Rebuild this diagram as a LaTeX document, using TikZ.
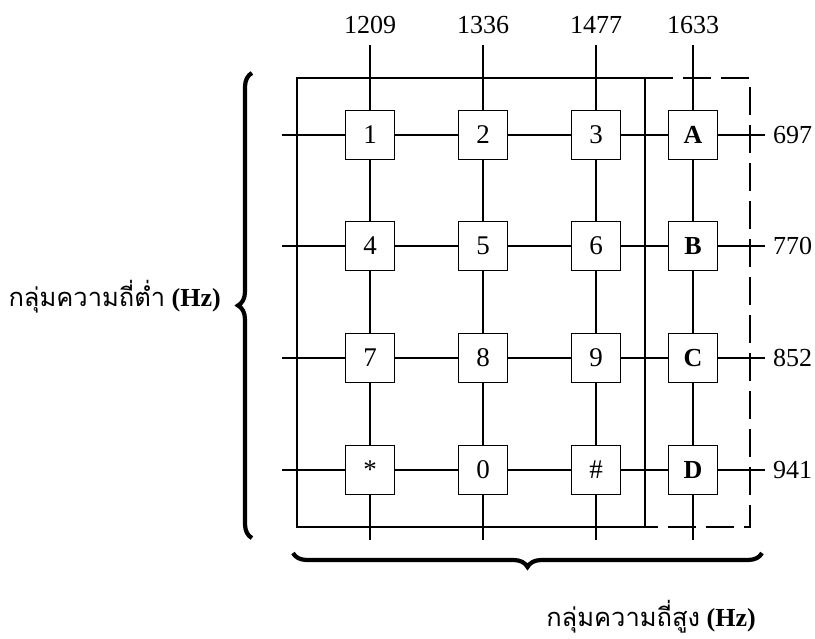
\documentclass[tikz,border=0pt]{standalone}
\usepackage{fontspec}
\setmainfont{Liberation Serif}
\newfontfamily\thaifont[Script=Thai]{Loma}
\usetikzlibrary{decorations.pathreplacing}
\begin{document}
\begin{tikzpicture}[x=1pt,y=-1pt,
  key/.style={draw, fill=white, line width=1.3pt, minimum size=49pt, inner sep=0pt, font=\fontsize{27}{30}\selectfont},
  keyl/.style={key, font=\fontsize{26}{30}\selectfont\bfseries},
  wire/.style={line width=1.2pt},
  freq/.style={font=\fontsize{26}{30}\selectfont, inner sep=0pt},
  grp/.style={font=\fontsize{26}{30}\selectfont, inner sep=0pt},
  dashbox/.style={line width=2.6pt, dash pattern=on 28pt off 10pt},
  bracestyle/.style={decorate, decoration={brace, amplitude=14pt}, line width=4.2pt}
]
\useasboundingbox (0,0) rectangle (815,639);

% column (high-group) frequency labels
\node[freq] (f1) at (370,25) {1209};
\node[freq] (f2) at (483,25) {1336};
\node[freq] (f3) at (596,25) {1477};
\node[freq] (f4) at (693,25) {1633};
% row (low-group) frequency labels
\node[freq, anchor=west] (g1) at (773,135) {697};
\node[freq, anchor=west] (g2) at (773,246) {770};
\node[freq, anchor=west] (g3) at (773,358) {852};
\node[freq, anchor=west] (g4) at (773,470) {941};

% wire end points
\coordinate (t1) at (370,45); \coordinate (b1) at (370,540);
\coordinate (t2) at (483,45); \coordinate (b2) at (483,540);
\coordinate (t3) at (596,45); \coordinate (b3) at (596,540);
\coordinate (t4) at (693,45); \coordinate (b4) at (693,540);
\coordinate (l1) at (282,135); \coordinate (r1) at (765,135);
\coordinate (l2) at (282,246); \coordinate (r2) at (765,246);
\coordinate (l3) at (282,358); \coordinate (r3) at (765,358);
\coordinate (l4) at (282,470); \coordinate (r4) at (765,470);

% keys
\node[key]  (k11) at (370,135) {1};
\node[key]  (k12) at (483,135) {2};
\node[key]  (k13) at (596,135) {3};
\node[keyl] (k14) at (693,135) {A};
\node[key]  (k21) at (370,246) {4};
\node[key]  (k22) at (483,246) {5};
\node[key]  (k23) at (596,246) {6};
\node[keyl] (k24) at (693,246) {B};
\node[key]  (k31) at (370,358) {7};
\node[key]  (k32) at (483,358) {8};
\node[key]  (k33) at (596,358) {9};
\node[keyl] (k34) at (693,358) {C};
\node[key]  (k41) at (370,470) {*};
\node[key]  (k42) at (483,470) {0};
\node[key]  (k43) at (596,470) {\#};
\node[keyl] (k44) at (693,470) {D};

% column wires
\draw[wire] (t1) -- (k11) -- (k21) -- (k31) -- (k41) -- (b1);
\draw[wire] (t2) -- (k12) -- (k22) -- (k32) -- (k42) -- (b2);
\draw[wire] (t3) -- (k13) -- (k23) -- (k33) -- (k43) -- (b3);
\draw[wire] (t4) -- (k14) -- (k24) -- (k34) -- (k44) -- (b4);
% row wires
\draw[wire] (l1) -- (k11) -- (k12) -- (k13) -- (k14) -- (r1);
\draw[wire] (l2) -- (k21) -- (k22) -- (k23) -- (k24) -- (r2);
\draw[wire] (l3) -- (k31) -- (k32) -- (k33) -- (k34) -- (r3);
\draw[wire] (l4) -- (k41) -- (k42) -- (k43) -- (k44) -- (r4);

% frames
\draw[wire] (297,78) rectangle (645,527);
\draw[dashbox] (645,78) -- (750,78) -- (750,527) -- (645,527);

% braces
\draw[bracestyle] (252,538) -- (252,73);
\draw[bracestyle] (762,553) -- (293,553);

% group labels
\node[grp, anchor=east] (lowgrp) at (221,297) {{\fontsize{25.5}{30}\selectfont\thaifont กลุ่มความถี่ต่ำ} \textbf{(Hz)}};
\node[grp] (highgrp) at (651,617) {{\fontsize{25.5}{30}\selectfont\thaifont กลุ่มความถี่สูง} \textbf{(Hz)}};
\end{tikzpicture}
\end{document}
